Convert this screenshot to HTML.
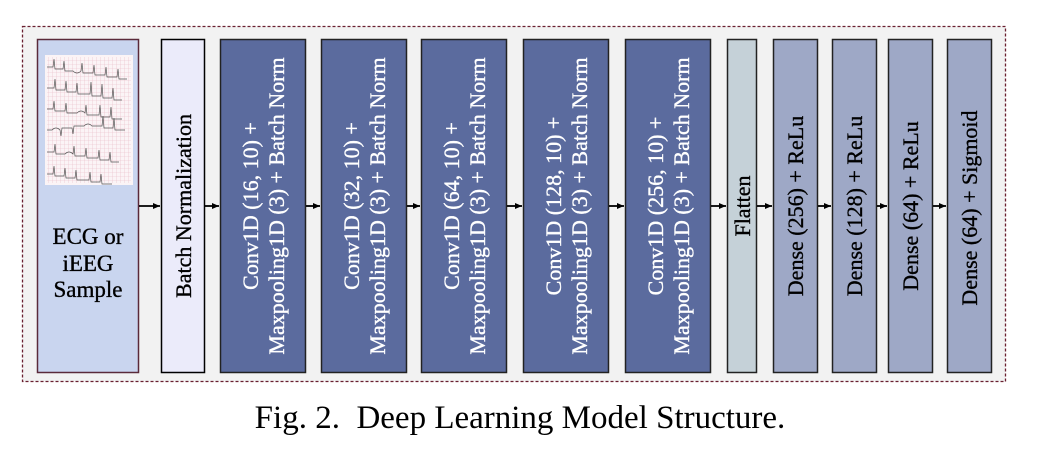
<!DOCTYPE html>
<html><head><meta charset="utf-8"><style>
html,body{margin:0;padding:0;background:#fff;}
svg{display:block;}
text{font-family:"Liberation Serif",serif;}
</style></head><body>
<svg width="1042" height="456" viewBox="0 0 1042 456" xmlns="http://www.w3.org/2000/svg">
<defs>
<marker id="ah" markerWidth="8" markerHeight="8" refX="7" refY="4" orient="auto" markerUnits="userSpaceOnUse">
<path d="M0,1 L7,4 L0,7 Z" fill="#000"/>
</marker>
<pattern id="grid" width="4" height="4" patternUnits="userSpaceOnUse">
<path d="M0,0 H4 M0,0 V4" stroke="#e8b8c4" stroke-width="0.6" fill="none"/>
</pattern>
</defs>
<rect x="22.5" y="26.5" width="983" height="355" fill="#f2f2f2" stroke="#6a2030" stroke-width="1.3" stroke-dasharray="3,2"/>
<rect x="37.5" y="39.5" width="101" height="333" fill="#c9d5ef" stroke="#5a2a3a" stroke-width="1.5"/>
<rect x="45" y="55" width="88" height="130" fill="#fbf4f6"/>
<rect x="47" y="57" width="84" height="126" fill="url(#grid)"/>
<g stroke="#555" stroke-width="0.7" fill="none">
<path d="M47,67 h6 l1,-8 l1,10 h8 l1,-8 l1,10 h8 q4,4 8,0 l1,-8 l1,10 h10 l1,-8 l1,10 h10 l1,-8 l1,10 h10 l1,-8 l1,10 h8"/>
<path d="M47,88 h7 l1,-9 l1,11 h9 l1,-9 l1,11 h9 l1,-9 l1,11 h12 l1,-12 l1,14 h9 l1,-12 l1,14 h9 l1,-10 l1,12 h8"/>
<path d="M47,109 h6 l1,-8 l1,10 h10 l1,-8 l1,10 h10 q4,-4 8,0 l1,-8 l1,10 h12 l1,-10 l1,12 h9 l1,-10 l1,12 h10"/>
<path d="M47,130 h5 q4,-4 8,0 l1,6 l1,-8 h10 l1,6 l1,-8 h10 q4,-4 8,0 h10 l1,-10 l1,12 h9 l1,-10 l1,12 h10"/>
<path d="M47,152 h7 l1,-8 l1,10 h9 q4,-4 8,0 l1,-8 l1,10 h10 l1,-8 l1,10 h11 l1,-8 l1,10 h9 l1,-8 l1,10 h8"/>
<path d="M47,174 h6 l1,-8 l1,10 h9 l1,-8 l1,10 h9 l1,-8 l1,10 h12 l1,-8 l1,10 h9 l1,-8 l1,10 h10"/>
</g>
<g stroke-width="0.35">
<text font-size="23" text-anchor="middle" fill="#000" stroke="#000"><tspan x="88" y="244">ECG or</tspan><tspan x="88" y="271">iEEG</tspan><tspan x="88" y="297">Sample</tspan></text>
<rect x="161.5" y="39.5" width="43" height="333" fill="#ebebfa" stroke="#000" stroke-width="1.5"/>
<text font-size="22" text-anchor="middle" stroke="#000" transform="translate(191,206) rotate(-90)" x="0" y="0">Batch Normalization</text>
<g fill="#5b6b9e" stroke="#222" stroke-width="1.5">
<rect x="220.5" y="39.5" width="85" height="333"/>
<rect x="321.5" y="39.5" width="85" height="333"/>
<rect x="421.5" y="39.5" width="85" height="333"/>
<rect x="523.5" y="39.5" width="85" height="333"/>
<rect x="625.5" y="39.5" width="85" height="333"/>
</g>
<g font-size="22" fill="#fff" stroke="#fff" text-anchor="middle">
<text transform="translate(263,206) rotate(-90)"><tspan x="0" y="-5">Conv1D (16, 10) +</tspan><tspan x="0" y="21">Maxpooling1D (3) + Batch Norm</tspan></text>
<text transform="translate(364,206) rotate(-90)"><tspan x="0" y="-5">Conv1D (32, 10) +</tspan><tspan x="0" y="21">Maxpooling1D (3) + Batch Norm</tspan></text>
<text transform="translate(464,206) rotate(-90)"><tspan x="0" y="-5">Conv1D (64, 10) +</tspan><tspan x="0" y="21">Maxpooling1D (3) + Batch Norm</tspan></text>
<text transform="translate(566,206) rotate(-90)"><tspan x="0" y="-5">Conv1D (128, 10) +</tspan><tspan x="0" y="21">Maxpooling1D (3) + Batch Norm</tspan></text>
<text transform="translate(668,206) rotate(-90)"><tspan x="0" y="-5">Conv1D (256, 10) +</tspan><tspan x="0" y="21">Maxpooling1D (3) + Batch Norm</tspan></text>
</g>
<rect x="727.5" y="39.5" width="29" height="333" fill="#c5d1d8" stroke="#222" stroke-width="1.5"/>
<text font-size="22" text-anchor="middle" stroke="#000" transform="translate(750,206) rotate(-90)">Flatten</text>
<g fill="#9ea8c6" stroke="#222" stroke-width="1.5">
<rect x="773.5" y="39.5" width="44" height="333"/>
<rect x="832.5" y="39.5" width="44" height="333"/>
<rect x="888.5" y="39.5" width="44" height="333"/>
<rect x="947.5" y="39.5" width="44" height="333"/>
</g>
<g font-size="22" text-anchor="middle" stroke="#000">
<text transform="translate(803,206) rotate(-90)">Dense (256) + ReLu</text>
<text transform="translate(862,206) rotate(-90)">Dense (128) + ReLu</text>
<text transform="translate(918,206) rotate(-90)">Dense (64) + ReLu</text>
<text transform="translate(977,208) rotate(-90)">Dense (64) + Sigmoid</text>
</g>
</g>
<g stroke="#000" stroke-width="1.8" marker-end="url(#ah)">
<line x1="139" y1="206" x2="160" y2="206"/>
<line x1="205" y1="206" x2="219" y2="206"/>
<line x1="306" y1="206" x2="320" y2="206"/>
<line x1="407" y1="206" x2="420" y2="206"/>
<line x1="507" y1="206" x2="522" y2="206"/>
<line x1="609" y1="206" x2="624" y2="206"/>
<line x1="711" y1="206" x2="726" y2="206"/>
<line x1="757" y1="206" x2="772" y2="206"/>
<line x1="818" y1="206" x2="831" y2="206"/>
<line x1="877" y1="206" x2="887" y2="206"/>
<line x1="933" y1="206" x2="946" y2="206"/>
</g>
<text x="520" y="428" font-size="33" text-anchor="middle" xml:space="preserve">Fig. 2.  Deep Learning Model Structure.</text>
</svg>
</body></html>
